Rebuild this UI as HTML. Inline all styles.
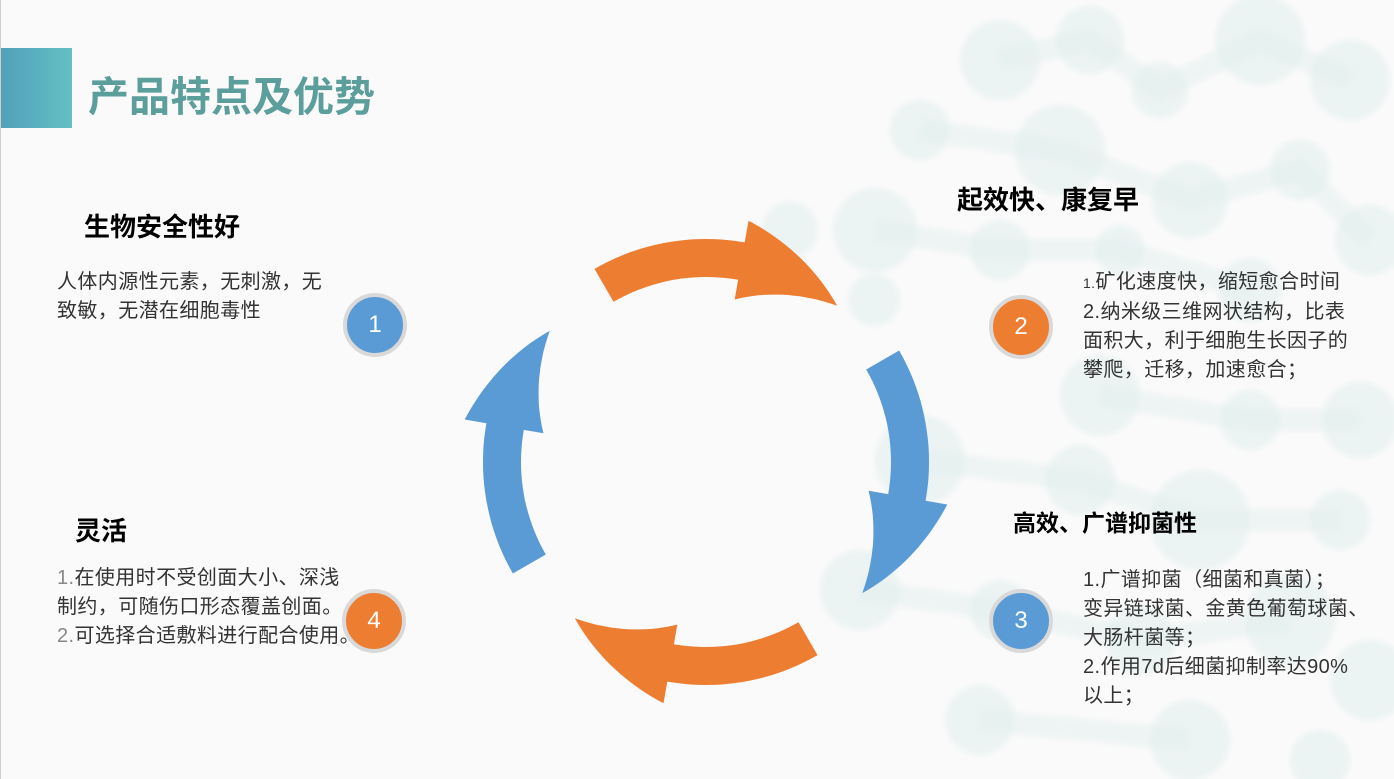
<!DOCTYPE html>
<html><head><meta charset="utf-8">
<style>
html,body{margin:0;padding:0}
body{width:1394px;height:779px;background:#fafafa;position:relative;overflow:hidden;font-family:"Liberation Sans","Noto Sans CJK SC",sans-serif;color:#222}
.a{position:absolute;white-space:nowrap}
.h{font-weight:bold;color:#000}
.b{font-size:20px;letter-spacing:0.4px;line-height:29px;color:#333}
.c{position:absolute;width:56px;height:56px;border-radius:50%;border:4px solid #d9d9d9;color:#fff;font-size:24px;text-align:center;line-height:56px}
</style></head><body>
<svg width="1394" height="779" style="position:absolute;left:0;top:0">
<defs><filter id="bl"><feGaussianBlur stdDeviation="3"/></filter>
<linearGradient id="g" x1="0" x2="1"><stop offset="0" stop-color="#52a0b9"/><stop offset="1" stop-color="#63c0c4"/></linearGradient></defs>
<g filter="url(#bl)" opacity="0.6">
<g fill="#d3e8e6" opacity="0.6">
<circle cx="1000" cy="60" r="40"/><circle cx="1090" cy="40" r="34"/><circle cx="1160" cy="90" r="28"/><circle cx="1260" cy="40" r="45"/><circle cx="1350" cy="80" r="40"/>
<circle cx="920" cy="130" r="30"/><circle cx="1060" cy="150" r="45"/><circle cx="1190" cy="200" r="38"/><circle cx="1300" cy="170" r="30"/><circle cx="1370" cy="240" r="35"/>
<circle cx="875" cy="230" r="42"/><circle cx="1000" cy="250" r="30"/><circle cx="1120" cy="250" r="25"/><circle cx="1250" cy="290" r="32"/>
<circle cx="790" cy="230" r="28"/><circle cx="874" cy="300" r="26"/><circle cx="1100" cy="395" r="40"/><circle cx="1250" cy="420" r="30"/><circle cx="1360" cy="420" r="38"/>
<circle cx="920" cy="460" r="45"/><circle cx="1080" cy="480" r="35"/><circle cx="1200" cy="520" r="50"/><circle cx="1340" cy="520" r="30"/>
<circle cx="860" cy="590" r="40"/><circle cx="1000" cy="610" r="30"/><circle cx="1140" cy="640" r="35"/><circle cx="1290" cy="620" r="45"/><circle cx="1370" cy="680" r="40"/>
<circle cx="980" cy="720" r="35"/><circle cx="1190" cy="740" r="40"/><circle cx="1320" cy="760" r="30"/>
</g>
<g stroke="#d3e8e6" stroke-width="22" opacity="0.5" fill="none">
<path d="M1000 60 L1090 40 L1160 90 L1260 40 L1350 80"/><path d="M920 130 L1060 150 L1190 200 L1300 170 L1370 240"/>
<path d="M875 230 L1000 250 L1120 250 L1250 290"/><path d="M1100 395 L1250 420 L1360 420"/><path d="M920 460 L1080 480 L1200 520 L1340 520"/>
<path d="M860 590 L1000 610 L1140 640 L1290 620"/><path d="M980 720 L1190 740"/>
</g>
</g>
<line x1="0.5" y1="0" x2="0.5" y2="779" stroke="#d0d0d0"/>
<rect x="1" y="48" width="71" height="80" fill="url(#g)"/>
<g id="arrows"></g>
</svg>
<div class="a h" style="left:88px;top:63px;font-size:41px;color:#5b9e9b">产品特点及优势</div>

<div class="a h" style="left:84px;top:207px;font-size:26px">生物安全性好</div>
<div class="a b" style="left:57px;top:268px">人体内源性元素，无刺激，无<br>致敏，无潜在细胞毒性</div>
<div class="c" style="left:343px;top:293px;background:#5b9bd5">1</div>

<div class="a h" style="left:957px;top:180px;font-size:26px">起效快、康复早</div>
<div class="a b" style="left:1083px;top:268px"><span style="font-size:14px">1.</span>矿化速度快，缩短愈合时间<br>2.纳米级三维网状结构，比表<br>面积大，利于细胞生长因子的<br>攀爬，迁移，加速愈合；</div>
<div class="c" style="left:989px;top:295px;background:#ed7d31">2</div>

<div class="a h" style="left:1013px;top:504px;font-size:23px">高效、广谱抑菌性</div>
<div class="a b" style="left:1083px;top:566px">1.广谱抑菌（细菌和真菌）；<br>变异链球菌、金黄色葡萄球菌、<br>大肠杆菌等；<br>2.作用7d后细菌抑制率达90%<br>以上；</div>
<div class="c" style="left:989px;top:589px;background:#5b9bd5">3</div>

<div class="a h" style="left:75px;top:511px;font-size:26px">灵活</div>
<div class="a b" style="left:57px;top:564px"><span style="color:#888">1.</span>在使用时不受创面大小、深浅<br>制约，可随伤口形态覆盖创面。<br><span style="color:#888">2.</span>可选择合适敷料进行配合使用。</div>
<div class="c" style="left:342px;top:589px;background:#ed7d31">4</div>

<script>
(function(){
var cx=706,cy=462,ri=185,ro=223,hi=165,ho=245,tr=204;
function P(r,a){a=a*Math.PI/180;return [(cx+r*Math.sin(a)).toFixed(1),(cy-r*Math.cos(a)).toFixed(1)];}
var cols=['#ed7d31','#5b9bd5','#ed7d31','#5b9bd5'],h='';
for(var k=0;k<4;k++){
 var t=k*90,a0=t-30,a1=t+10,a2=t+40,pts=[],i,n=20;
 for(i=0;i<=n;i++)pts.push(P(ri,a0+(a1-a0)*i/n));
 pts.push(P(hi,a1));
 for(i=1;i<=n;i++){var f=i/n;pts.push(P(hi+(tr-hi)*f,a1+(a2-a1)*f));}
 for(i=n-1;i>=0;i--){var f=i/n;pts.push(P(ho+(tr-ho)*f,a1+(a2-a1)*f));}
 pts.push(P(ro,a1));
 for(i=n;i>=0;i--)pts.push(P(ro,a0+(a1-a0)*i/n));
 h+='<polygon fill="'+cols[k]+'" points="'+pts.map(function(p){return p.join(',')}).join(' ')+'"/>';
}
document.getElementById('arrows').innerHTML=h;
})();
</script>
</body></html>
